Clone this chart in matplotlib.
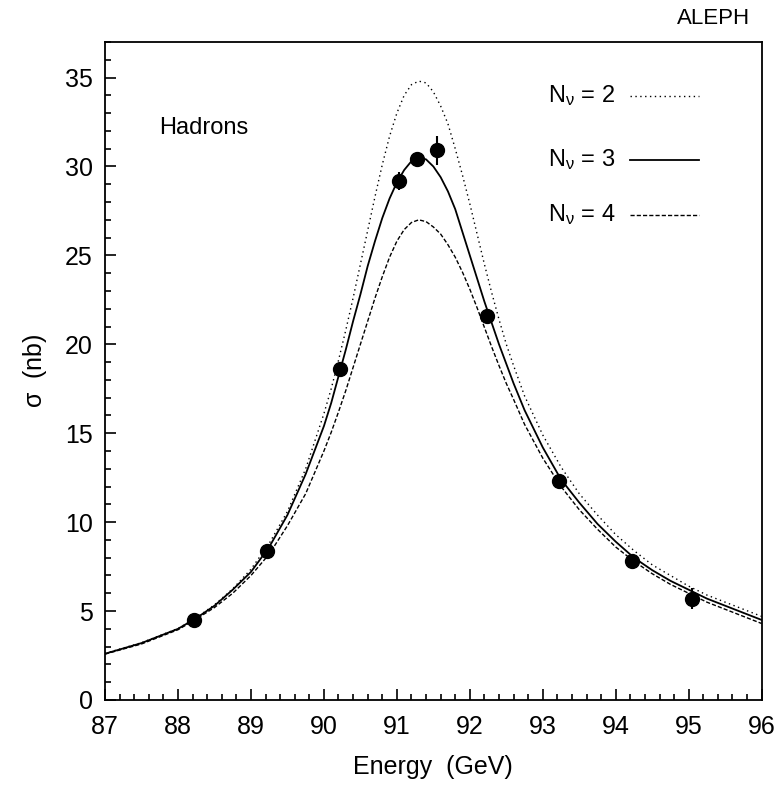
import numpy as np
import matplotlib
matplotlib.use("Agg")
import matplotlib.pyplot as plt
from matplotlib.ticker import MultipleLocator

plt.rcParams['font.family'] = ['Liberation Sans', 'DejaVu Sans']
plt.rcParams['mathtext.fontset'] = 'custom'
plt.rcParams['mathtext.rm'] = 'Liberation Sans'
plt.rcParams['mathtext.it'] = 'Liberation Sans'

# --- measured hadronic cross sections ---
energy = [88.22, 89.22, 90.22, 91.03, 91.27, 91.55, 92.23, 93.22, 94.22, 95.04]
sigma = [4.5, 8.4, 18.6, 29.2, 30.4, 30.9, 21.6, 12.3, 7.8, 5.7]
sigma_err = [0.2, 0.25, 0.3, 0.5, 0.3, 0.8, 0.3, 0.3, 0.3, 0.6]

# --- expected line shapes for 2, 3, 4 neutrino families ---
e_curve = [87.0, 87.5, 88.0, 88.25, 88.5, 88.75, 89.0, 89.25, 89.5, 89.75,
           90.0, 90.1, 90.2, 90.3, 90.4, 90.5, 90.6, 90.7, 90.8, 90.9,
           91.0, 91.1, 91.2, 91.3, 91.4, 91.5, 91.6, 91.7, 91.8, 91.9,
           92.0, 92.1, 92.2, 92.3, 92.4, 92.5, 92.6,
           92.75, 93.0, 93.25, 93.5, 93.75, 94.0, 94.25, 94.5, 94.75,
           95.0, 95.25, 95.5, 95.75, 96.0]
nu2 = [2.62, 3.22, 4.02, 4.62, 5.35, 6.25, 7.35, 8.8, 10.6, 13.0,
       16.1, 17.5, 19.1, 20.8, 22.6, 24.5, 26.4, 28.3, 30.1, 31.7,
       33.0, 34.0, 34.6, 34.8, 34.7, 34.2, 33.4, 32.4, 31.0, 29.5,
       27.9, 26.2, 24.5, 22.9, 21.4, 20.0, 18.8,
       17.1, 14.9, 13.1, 11.6, 10.4, 9.3, 8.4, 7.6, 7.0,
       6.4, 5.9, 5.5, 5.1, 4.7]
nu3 = [2.6, 3.2, 4.0, 4.6, 5.3, 6.2, 7.2, 8.6, 10.4, 12.7,
       15.4, 16.7, 18.2, 19.7, 21.3, 22.8, 24.4, 25.8, 27.1, 28.2,
       29.1, 29.8, 30.3, 30.5, 30.4, 30.0, 29.4, 28.6, 27.6, 26.3,
       25.0, 23.7, 22.4, 21.2, 20.0, 18.9, 17.8,
       16.3, 14.2, 12.4, 11.1, 9.9, 8.9, 8.0, 7.3, 6.7,
       6.2, 5.7, 5.3, 4.9, 4.5]
nu4 = [2.58, 3.15, 3.95, 4.55, 5.2, 6.0, 7.0, 8.2, 9.8, 11.6,
       14.0, 15.05, 16.2, 17.4, 18.7, 20.0, 21.3, 22.6, 23.8, 24.9,
       25.8, 26.45, 26.85, 27.0, 26.9, 26.6, 26.2, 25.6, 24.9, 24.05,
       23.1, 22.05, 20.95, 19.85, 18.8, 17.8, 16.9,
       15.5, 13.6, 12.0, 10.7, 9.6, 8.6, 7.8, 7.1, 6.5,
       6.0, 5.5, 5.1, 4.7, 4.3]

dotted = (0, (1, 2.5))
dashed = (0, (3, 1.5))

fig = plt.figure(figsize=(7.78, 7.88), dpi=100)
ax = fig.add_axes([0.135, 0.1117, 0.844, 0.835])

ax.plot(e_curve, nu2, color='black', lw=1.0, linestyle=dotted)
ax.plot(e_curve, nu3, color='black', lw=1.3, linestyle='-')
ax.plot(e_curve, nu4, color='black', lw=1.0, linestyle=dashed)

ax.errorbar(energy, sigma, yerr=sigma_err, fmt='o', color='black', ms=10,
            elinewidth=1.5, capsize=0, zorder=5)

ax.set_xlim(87, 96)
ax.set_ylim(0, 37)
ax.xaxis.set_major_locator(MultipleLocator(1))
ax.xaxis.set_minor_locator(MultipleLocator(0.2))
ax.yaxis.set_major_locator(MultipleLocator(5))
ax.yaxis.set_minor_locator(MultipleLocator(1))
ax.tick_params(which='both', direction='in', top=False, right=False,
               labelsize=18, width=1.2)
ax.tick_params(which='major', length=8)
ax.tick_params(which='minor', length=4)
ax.tick_params(axis='x', which='major', pad=11)
ax.tick_params(axis='y', which='major', pad=9)
for s in ax.spines.values():
    s.set_linewidth(1.3)

ax.set_xlabel('Energy  (GeV)', fontsize=18)
ax.set_ylabel(r'$\sigma$  (nb)', fontsize=18)
ax.xaxis.set_label_coords(0.5, -0.083)
ax.yaxis.set_label_coords(-0.085, 0.5)

ax.text(0.083, 0.87, 'Hadrons', transform=ax.transAxes, fontsize=17,
        ha='left', va='center')
fig.text(0.964, 0.977, 'ALEPH', fontsize=16, ha='right', va='center')

# legend drawn by hand, like the original
leg_labels = [r'N$_{\nu}$ = 2', r'N$_{\nu}$ = 3', r'N$_{\nu}$ = 4']
leg_styles = [(dotted, 1.0), ('-', 1.3), (dashed, 1.0)]
leg_y = [0.918, 0.821, 0.737]
for lab, (ls, lw), yy in zip(leg_labels, leg_styles, leg_y):
    ax.text(0.674, yy, lab, transform=ax.transAxes, fontsize=17,
            ha='left', va='center')
    ax.plot([0.80, 0.905], [yy, yy], transform=ax.transAxes, color='black',
            lw=lw, linestyle=ls)

fig.savefig('out.png', dpi=100)
